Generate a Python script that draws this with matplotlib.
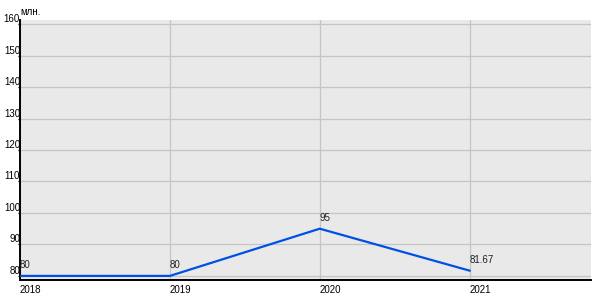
import matplotlib
matplotlib.use("Agg")
import matplotlib.pyplot as plt

years = [2018, 2019, 2020, 2021]
values = [80, 80, 95, 81.67]
value_labels = ["80", "80", "95", "81.67"]
y_ticks = [80, 90, 100, 110, 120, 130, 140, 150, 160]

plt.rcParams['font.family'] = ['Liberation Sans', 'DejaVu Sans']

fig = plt.figure(figsize=(6, 3), dpi=100)
ax = fig.add_axes([20 / 600, 20 / 300, 571 / 600, 260 / 300])
ax.set_facecolor('#e9e9e9')

ax.plot(years, values, color='#0050e6', linewidth=1.6, zorder=3)
for x, y, s in zip(years, values, value_labels):
    ax.annotate(s, (x, y), xytext=(0, 4), textcoords='offset points',
                ha='left', va='bottom', fontsize=7, color='#222222')

ax.set_xlim(2018, 2021.81)
ax.set_ylim(78.7, 161.3)
ax.set_xticks(years)
ax.set_xticklabels([str(y) for y in years])
ax.set_yticks(y_ticks)
ax.grid(True, color='#c4c4c4', linewidth=0.9)
ax.set_axisbelow(True)

for side in ['top', 'right']:
    ax.spines[side].set_visible(False)
for side in ['left', 'bottom']:
    ax.spines[side].set_linewidth(1.4)
    ax.spines[side].set_color('black')

ax.tick_params(axis='y', length=1.5, width=1, pad=-1.5, labelsize=7, colors='black')
ax.tick_params(axis='x', length=0, pad=3.5, labelsize=7)
for lbl in ax.get_xticklabels():
    lbl.set_horizontalalignment('left')
for lbl in ax.get_yticklabels():
    lbl.set_verticalalignment('bottom')
    lbl.set_horizontalalignment('right')

fig.text(20 / 600, 1 - 12 / 300, "млн.", fontsize=7, ha='left', va='center')

fig.savefig("out.png", dpi=100)
